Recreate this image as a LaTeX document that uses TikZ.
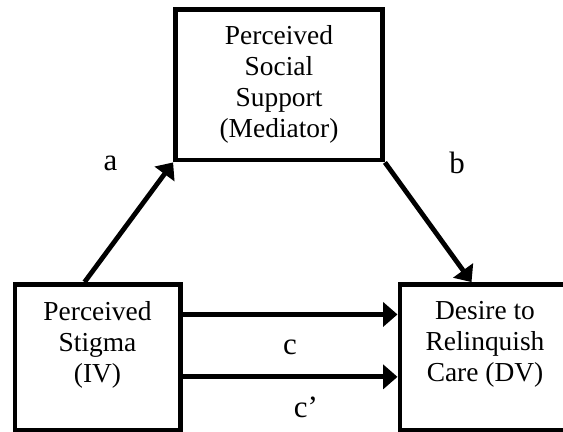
\documentclass[tikz,border=0pt]{standalone}
\usepackage{fontspec}
\setmainfont{Liberation Serif}
\usetikzlibrary{arrows.meta}

\begin{document}
\begin{tikzpicture}[x=0.025cm, y=-0.025cm,
  box/.style={draw, line width=0.12cm, rectangle, inner sep=0pt},
  boxtext/.style={align=center, font=\fontsize{19.5}{22}\selectfont},
  pathlabel/.style={inner sep=0pt, font=\fontsize{22}{26}\selectfont},
  arr/.style={line width=0.12cm, -{Triangle[length=0.36cm, width=0.6cm]}}]
  \clip (0,0) rectangle (563,432);

  % Boxes
  \node[box, boxtext, minimum width=5.175cm, minimum height=3.7625cm] (med) at (279,84.75) {Perceived\\Social\\Support\\(Mediator)};
  \node[box, minimum width=4.1375cm, minimum height=3.6375cm] (iv) at (97.75,357.25) {};
  \node[boxtext] (ivtext) at (97.5,344.5) {Perceived\\Stigma\\(IV)};
  \node[box, anchor=west, minimum width=5.5cm, minimum height=3.6375cm] (dv) at (397.5,357.25) {};
  \node[boxtext] (dvtext) at (485,344.5) {Desire to\\Relinquish\\Care (DV)};

  % Paths
  \draw[arr] ([xshift=-0.33cm]iv.north) -- (med.south west);
  \draw[arr] (med.south east) -- ([xshift=1.85cm]dv.north west);
  \draw[arr] ([yshift=1.07cm]iv.east) -- ([yshift=1.07cm]dv.west);
  \draw[arr] ([yshift=-0.49cm]iv.east) -- ([yshift=-0.49cm]dv.west);

  % Path labels
  \node[pathlabel] (la) at (110.5,163) {a};
  \node[pathlabel] (lb) at (457,163) {b};
  \node[pathlabel] (lc) at (290,347) {c};
  \node[pathlabel] (lcp) at (306,407) {c’};
\end{tikzpicture}
\end{document}
